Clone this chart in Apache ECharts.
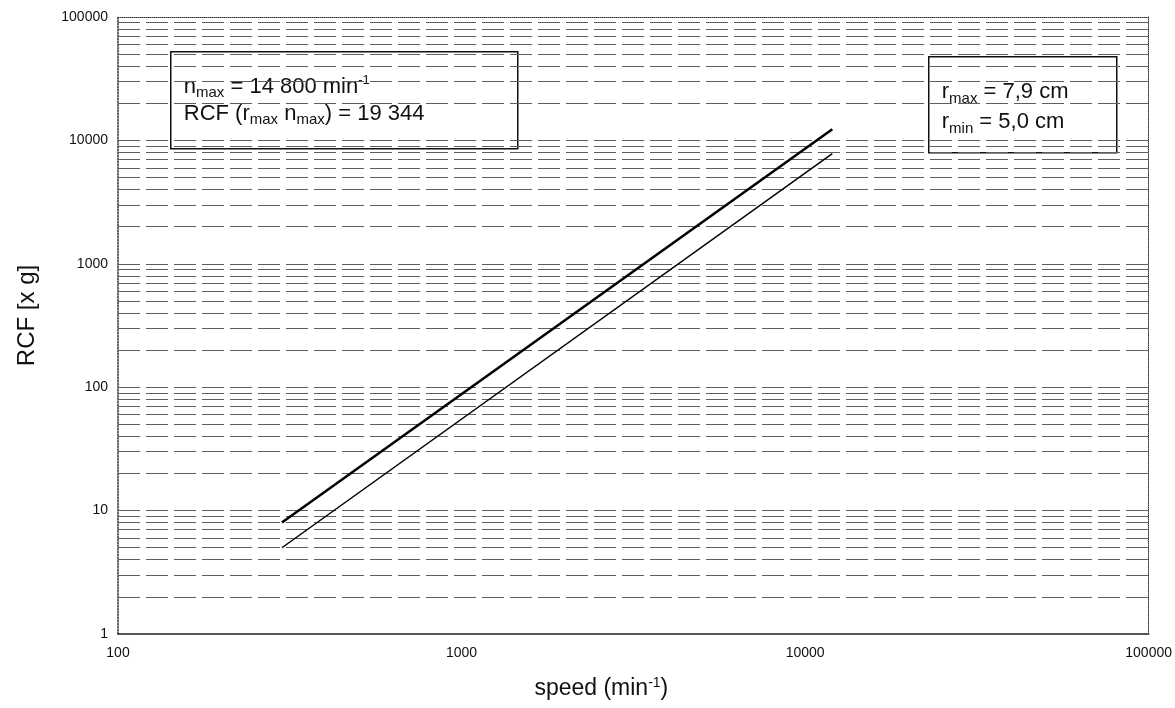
<!DOCTYPE html>
<html>
<head>
<meta charset="utf-8">
<script src="https://cdn.jsdelivr.net/npm/echarts@6/dist/echarts.min.js"></script>
<style>
  html, body { margin: 0; padding: 0; background: #fff; }
  #rcf { width: 1175px; height: 708px; }
</style>
</head>
<body>
<div id="rcf"></div>
<script>
// speed values (min^-1)
var speedPoints = [300, 12000]
// RCF for r_max = 7,9 cm and r_min = 5,0 cm
var rcfMax = [8, 12300]
var rcfMin = [5, 7800]
// horizontal grid lines (every minor step of each decade)
var gridValues = [
  2, 3, 4, 5, 6, 7, 8, 9, 10,
  20, 30, 40, 50, 60, 70, 80, 90, 100,
  200, 300, 400, 500, 600, 700, 800, 900, 1000,
  2000, 3000, 4000, 5000, 6000, 7000, 8000, 9000, 10000,
  20000, 30000, 40000, 50000, 60000, 70000, 80000, 90000
]

var chart = echarts.init(document.getElementById('rcf'))
var font = 'Liberation Sans, Arial, sans-serif'

function pairs(xs, ys) {
  return xs.map(function(x, i) { return [x, ys[i]] })
}

function plain(v) {
  return String(Math.round(v))
}

var boxText = function(x, y, w, h, ty, lh, lines) {
  return {
    type: 'group',
    left: x,
    top: y,
    children: [
      {
        type: 'rect',
        shape: { x: 0, y: 0, width: w, height: h },
        style: { fill: '#fff', stroke: '#111', lineWidth: 1.5 }
      },
      {
        type: 'text',
        x: 13,
        y: ty,
        style: {
          text: lines,
          font: '22px ' + font,
          fill: '#111',
          lineHeight: lh,
          rich: {
            n: { fontSize: 22, fontFamily: font, color: '#111', lineHeight: lh },
            sub: { fontSize: 15, fontFamily: font, color: '#111', verticalAlign: 'bottom', lineHeight: 20, padding: [8, 0, 0, 0] },
            sup: { fontSize: 13, fontFamily: font, color: '#111', verticalAlign: 'top', lineHeight: 20, padding: [0, 0, 9, 0] }
          }
        }
      }
    ]
  }
}

chart.setOption({
  backgroundColor: '#fff',
  animation: false,
  grid: {
    left: 118,
    top: 17,
    right: 25,
    bottom: 74
  },
  xAxis: [{
    type: 'log',
    logBase: 10,
    min: 100,
    max: 100000,
    name: '{n|speed (min}{sup|-1}{n|)}',
    nameLocation: 'middle',
    nameGap: 42,
    nameTextStyle: {
      padding: [0, 64, 0, 0],
      rich: {
        n: { fontSize: 23, fontFamily: font, color: '#111' },
        sup: { fontSize: 14, fontFamily: font, color: '#111', verticalAlign: 'top', padding: [0, 0, 12, 0] }
      }
    },
    axisLine: { lineStyle: { color: '#222', width: 1.5 } },
    axisTick: { show: false },
    splitLine: { show: false },
    axisLabel: { fontSize: 14, fontFamily: font, color: '#111', margin: 12, formatter: plain }
  }, {
    type: 'log',
    logBase: 10,
    min: 100,
    max: 100000,
    position: 'top',
    axisLine: { lineStyle: { color: '#333', type: 'dotted', width: 1 } },
    axisTick: { show: false },
    axisLabel: { show: false },
    splitLine: { show: false }
  }],
  yAxis: [{
    type: 'log',
    logBase: 10,
    min: 1,
    max: 100000,
    name: 'RCF [x g]',
    nameLocation: 'middle',
    nameGap: 79,
    nameTextStyle: { fontSize: 24, fontFamily: font, color: '#111', padding: [0, 0, 0, 20] },
    axisLine: { show: true, lineStyle: { color: '#333', type: 'dotted', width: 1.5 } },
    axisTick: { show: false },
    splitLine: { show: false },
    axisLabel: { fontSize: 14, fontFamily: font, color: '#111', margin: 10, formatter: plain }
  }, {
    type: 'log',
    logBase: 10,
    min: 1,
    max: 100000,
    position: 'right',
    axisLine: { show: true, lineStyle: { color: '#333', type: 'dotted', width: 1 } },
    axisTick: { show: false },
    axisLabel: { show: false },
    splitLine: { show: false }
  }],
  series: [{
    name: 'r max',
    type: 'line',
    data: pairs(speedPoints, rcfMax),
    showSymbol: false,
    lineStyle: { color: '#000', width: 2.6 },
    z: 5,
    markLine: {
      silent: true,
      symbol: 'none',
      label: { show: false },
      lineStyle: { color: '#5e5e5e', width: 1, type: [22, 6] },
      data: gridValues.map(function(v) { return { yAxis: v } }),
      z: 1
    }
  }, {
    name: 'r min',
    type: 'line',
    data: pairs(speedPoints, rcfMin),
    showSymbol: false,
    lineStyle: { color: '#000', width: 1.5 },
    z: 5
  }],
  graphic: [
    boxText(170, 51, 347, 97, 22, 27,
      '{n|n}{sub|max}{n| = 14 800 min}{sup|-1}\n{n|RCF (r}{sub|max}{n| n}{sub|max}{n|) = 19 344}'),
    boxText(928, 56, 188, 96, 20, 30,
      '{n|r}{sub|max}{n| = 7,9 cm}\n{n|r}{sub|min}{n| = 5,0 cm}')
  ]
})
</script>
</body>
</html>
